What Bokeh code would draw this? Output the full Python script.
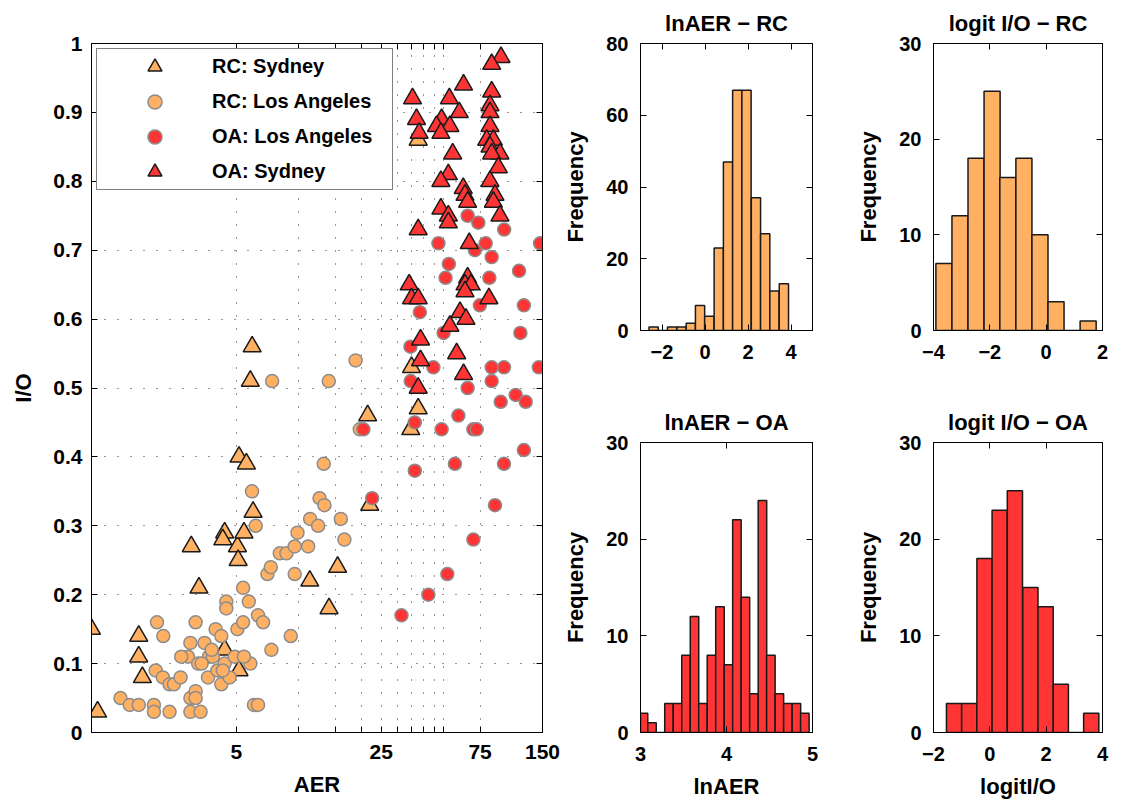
from bokeh.plotting import figure
from bokeh.models import Range1d, FixedTicker, LinearAxis, Legend, LegendItem
from bokeh.layouts import row, column
from bokeh.embed import file_html
from bokeh.resources import INLINE

FONT = "Liberation Sans"
ORANGE = "#FFB062"
RED = "#FF3535"
TRI_EDGE = "#1A1A1A"
CIRC_EDGE = "#8C8C8C"

# ---------------- scatter data (AER, I/O) ----------------
rc_syd_aer = [1.0, 1.07, 1.69, 1.69, 1.76, 3.03, 3.3, 4.39, 4.3, 5.06, 5.1, 5.44, 6.02, 4.39,
              5.15, 11.3, 14.0, 15.4, 22.0, 5.96, 5.84, 5.15, 5.59, 21.5, 35.0, 37.7, 34.7, 37.7]
rc_syd_io = [0.15, 0.03, 0.14, 0.11, 0.08, 0.27, 0.21, 0.29, 0.28, 0.27, 0.25, 0.29, 0.32, 0.12,
             0.09, 0.22, 0.18, 0.24, 0.33, 0.56, 0.51, 0.40, 0.39, 0.46, 0.53, 0.47, 0.44, 0.86]

rc_la_aer = [1.38, 1.53, 1.69, 2.0, 2.0, 2.04, 2.21, 2.38, 2.5, 2.69, 2.38, 2.07, 2.22, 3.0, 3.0,
             3.18, 3.18, 3.36, 3.0, 2.92, 2.71, 3.18, 3.27, 3.51, 3.69, 3.65, 3.97, 4.23, 4.05,
             4.23, 4.39, 4.64, 4.47, 4.47, 4.91, 5.06, 5.39, 5.39, 5.74, 5.84, 5.44, 6.36, 6.73,
             6.08, 6.36, 5.95, 6.2, 7.38, 7.06, 7.33, 8.1, 8.72, 9.56, 9.86, 11.1, 11.35, 12.4,
             12.6, 13.3, 9.56, 9.15, 15.96, 16.6, 3.85, 4.3, 7.44, 13.96, 18.8, 13.2, 19.7, 3.4, 3.8]
rc_la_io = [0.05, 0.04, 0.04, 0.04, 0.03, 0.09, 0.08, 0.07, 0.07, 0.08, 0.03, 0.16, 0.14, 0.03, 0.05,
            0.06, 0.05, 0.03, 0.13, 0.11, 0.11, 0.16, 0.10, 0.13, 0.11, 0.08, 0.15, 0.14, 0.09,
            0.07, 0.10, 0.08, 0.19, 0.18, 0.11, 0.15, 0.16, 0.21, 0.19, 0.10, 0.11, 0.17, 0.16,
            0.04, 0.04, 0.35, 0.30, 0.12, 0.23, 0.24, 0.26, 0.26, 0.27, 0.29, 0.27, 0.31, 0.30,
            0.34, 0.33, 0.23, 0.14, 0.31, 0.28, 0.11, 0.09, 0.51, 0.51, 0.54, 0.39, 0.44, 0.10, 0.12]

oa_la_aer = [22.6, 31.3, 42.2, 52.1, 69.6, 88.5, 20.5, 34.6, 38.4, 47.2, 53.0, 51.1, 44.6, 34.7,
             65.3, 58.9, 48.9, 69.6, 72.2, 36.3, 36.3, 56.7, 97.8, 122.0, 65.3, 73.5, 98.0, 79.8,
             70.8, 85.3, 83.1, 74.8, 122.0, 115.6, 117.3, 85.3, 97.8, 144.0, 85.3, 94.3, 111.4,
             124.5, 146.0, 50.0]
oa_la_io = [0.34, 0.17, 0.20, 0.23, 0.28, 0.33, 0.44, 0.56, 0.61, 0.71, 0.68, 0.66, 0.53, 0.51,
            0.50, 0.46, 0.44, 0.44, 0.44, 0.45, 0.38, 0.39, 0.39, 0.41, 0.75, 0.74, 0.73, 0.71,
            0.70, 0.69, 0.66, 0.62, 0.62, 0.67, 0.58, 0.53, 0.53, 0.53, 0.51, 0.48, 0.49,
            0.48, 0.71, 0.58]

oa_syd_aer = [94.6, 85.3, 62.4, 35.4, 53.3, 85.3, 59.5, 83.7, 83.7, 37.0, 48.9, 53.6, 46.2, 48.5,
              38.1, 83.7, 80.7, 86.9, 83.7, 93.5, 55.3, 85.3, 91.8, 52.7, 48.5, 83.7, 88.5, 62.2,
              63.4, 65.3, 86.9, 48.5, 52.7, 52.7, 93.5, 37.7, 66.5, 65.3, 63.4, 67.8, 63.4, 34.1,
              35.0, 37.7, 82.7, 60.0, 64.1, 53.6, 38.7, 57.8, 38.7, 62.4, 37.7]
oa_syd_io = [0.98, 0.97, 0.94, 0.92, 0.92, 0.93, 0.90, 0.91, 0.90, 0.89, 0.89, 0.88, 0.88, 0.87,
             0.87, 0.88, 0.86, 0.86, 0.85, 0.84, 0.84, 0.84, 0.82, 0.81, 0.80, 0.80, 0.78, 0.79,
             0.78, 0.77, 0.77, 0.76, 0.75, 0.74, 0.75, 0.73, 0.71, 0.66, 0.65, 0.65, 0.64, 0.65,
             0.63, 0.63, 0.63, 0.61, 0.60, 0.59, 0.57, 0.55, 0.54, 0.52, 0.50]

x_ticks = [5, 10, 15, 20, 25, 30, 35, 40, 45, 50, 75, 150]
x_tick_labels = ["5", "", "", "", "25", "", "", "", "", "", "75", "150"]
y_ticks = [0, 0.1, 0.2, 0.3, 0.4, 0.5, 0.6, 0.7, 0.8, 0.9, 1]
y_tick_labels = ["0", "0.1", "0.2", "0.3", "0.4", "0.5", "0.6", "0.7", "0.8", "0.9", "1"]

# ---------------- histogram data ----------------
rc_lnaer_centers = [-2.39, -1.96, -1.53, -1.09, -0.66, -0.23, 0.20, 0.64, 1.07, 1.50, 1.93, 2.37,
                    2.80, 3.23, 3.67]
rc_lnaer_counts = [1, 0, 1, 1, 2, 7, 4, 23, 47, 67, 67, 37, 27, 11, 13]

rc_logit_centers = [-3.63, -3.06, -2.49, -1.92, -1.36, -0.79, -0.22, 0.35, 0.92, 1.49]
rc_logit_counts = [7, 12, 18, 25, 16, 18, 10, 3, 0, 1]

oa_lnaer_centers = [3.035, 3.134, 3.233, 3.331, 3.430, 3.529, 3.628, 3.726, 3.825, 3.924, 4.023,
                    4.121, 4.220, 4.319, 4.418, 4.516, 4.615, 4.714, 4.813, 4.911]
oa_lnaer_counts = [2, 1, 0, 3, 3, 8, 12, 3, 8, 13, 7, 22, 14, 4, 24, 8, 4, 3, 3, 2]

oa_logit_centers = [-1.27, -0.73, -0.19, 0.35, 0.89, 1.44, 1.98, 2.52, 3.06, 3.60]
oa_logit_counts = [3, 3, 18, 23, 25, 15, 13, 5, 0, 2]


def lab(t):
    s = ("%g" % t)
    return s.replace("-", "\u2212")


def style_axes(p, xticks, xlabels, yticks, ylabels, xlabel=None, ylabel=None,
               tick_size="20px", x_standoff=13, y_standoff=9, y_label_standoff=18):
    xa = p.below[0]
    ya = p.left[0]
    xa.ticker = FixedTicker(ticks=xticks)
    xa.major_label_overrides = {t: l for t, l in zip(xticks, xlabels)}
    ya.ticker = FixedTicker(ticks=yticks)
    ya.major_label_overrides = {t: l for t, l in zip(yticks, ylabels)}
    for ax in (xa, ya):
        ax.major_tick_in = 6
        ax.major_tick_out = 0
        ax.minor_tick_line_color = None
        ax.axis_line_color = "black"
        ax.major_tick_line_color = "black"
        ax.major_label_text_font = FONT
        ax.major_label_text_font_style = "bold"
        ax.major_label_text_font_size = tick_size
        ax.major_label_text_color = "black"
        ax.axis_label_text_font = FONT
        ax.axis_label_text_font_style = "bold"
        ax.axis_label_text_font_size = "22px"
        ax.axis_label_text_color = "black"
    xa.major_label_standoff = x_standoff
    ya.major_label_standoff = y_standoff
    xa.axis_label_standoff = 10
    ya.axis_label_standoff = y_label_standoff
    if xlabel:
        xa.axis_label = xlabel
    if ylabel:
        ya.axis_label = ylabel
    top = LinearAxis(ticker=FixedTicker(ticks=xticks),
                     major_label_overrides={t: "" for t in xticks},
                     major_tick_in=6, major_tick_out=0, minor_tick_line_color=None,
                     axis_line_color="black", major_label_standoff=0)
    p.add_layout(top, "above")
    right = LinearAxis(ticker=FixedTicker(ticks=yticks),
                       major_label_overrides={t: "" for t in yticks},
                       major_tick_in=6, major_tick_out=0, minor_tick_line_color=None,
                       axis_line_color="black", major_label_standoff=0)
    p.add_layout(right, "right")
    p.outline_line_color = "black"
    p.outline_line_width = 1


# ---------------- scatter ----------------
sc = figure(width=560, height=804, x_axis_type="log", x_range=Range1d(1, 150),
            y_range=Range1d(0, 1), output_backend="svg", toolbar_location=None,
            min_border_left=91, min_border_right=18, min_border_top=43, min_border_bottom=72)
style_axes(sc, x_ticks, x_tick_labels, y_ticks, y_tick_labels, xlabel="AER", ylabel="I/O",
           tick_size="21px", x_standoff=12, y_standoff=9, y_label_standoff=14)
for g in (sc.xgrid, sc.ygrid):
    g.grid_line_color = "#333333"
    g.grid_line_dash = "1 12"
    g.grid_line_width = 1

r1 = sc.scatter(rc_syd_aer, rc_syd_io, marker="triangle", size=18, fill_color=ORANGE,
                line_color=TRI_EDGE, line_width=1.5)
r2 = sc.scatter(rc_la_aer, rc_la_io, marker="circle", size=13, fill_color=ORANGE,
                line_color=CIRC_EDGE, line_width=1.5)
r3 = sc.scatter(oa_la_aer, oa_la_io, marker="circle", size=13, fill_color=RED,
                line_color=CIRC_EDGE, line_width=1.5)
r4 = sc.scatter(oa_syd_aer, oa_syd_io, marker="triangle", size=18, fill_color=RED,
                line_color=TRI_EDGE, line_width=1.5)

legend = Legend(items=[LegendItem(label="RC: Sydney", renderers=[r1]),
                       LegendItem(label="RC: Los Angeles", renderers=[r2]),
                       LegendItem(label="OA: Los Angeles", renderers=[r3]),
                       LegendItem(label="OA: Sydney", renderers=[r4])],
                location="top_left", margin=5, padding=0, spacing=0,
                glyph_width=115, glyph_height=35, label_height=35, label_width=180,
                label_standoff=0, label_text_font=FONT, label_text_font_style="bold",
                label_text_font_size="20px", label_text_color="black",
                border_line_color="black", border_line_width=1,
                background_fill_color="white", background_fill_alpha=1.0)
sc.add_layout(legend)


# ---------------- histograms ----------------
def make_hist(centers, counts, color, xr, yr, xticks, yticks, title, xlabel,
              w, h, bl, br, bt, bb):
    p = figure(width=w, height=h, x_range=Range1d(*xr), y_range=Range1d(*yr),
               output_backend="svg", toolbar_location=None, title=title,
               min_border_left=bl, min_border_right=br, min_border_top=bt, min_border_bottom=bb)
    bw = centers[1] - centers[0]
    p.vbar(x=centers, top=counts, width=bw, bottom=0, fill_color=color,
           line_color=TRI_EDGE, line_width=1.5)
    style_axes(p, xticks, [lab(t) for t in xticks], yticks, [lab(t) for t in yticks],
               xlabel=xlabel, ylabel="Frequency", tick_size="20px", x_standoff=14,
               y_standoff=12, y_label_standoff=15)
    p.grid.visible = False
    p.title.text_font = FONT
    p.title.text_font_style = "bold"
    p.title.text_font_size = "22px"
    p.title.text_color = "black"
    p.title.align = "center"
    p.title.vertical_align = "middle"
    p.title.standoff = 14
    return p


h1 = make_hist(rc_lnaer_centers, rc_lnaer_counts, ORANGE, (-3, 5), (0, 80), [-2, 0, 2, 4],
               [0, 20, 40, 60, 80], "lnAER \u2212 RC", None, 280, 390, 78, 28, 43, 60)
h2 = make_hist(rc_logit_centers, rc_logit_counts, ORANGE, (-4, 2), (0, 30), [-4, -2, 0, 2],
               [0, 10, 20, 30], "logit I/O \u2212 RC", None, 286, 390, 93, 20, 43, 60)
h3 = make_hist(oa_lnaer_centers, oa_lnaer_counts, RED, (3, 5), (0, 30), [3, 4, 5],
               [0, 10, 20, 30], "lnAER \u2212 OA", "lnAER", 280, 414, 79, 27, 52, 72)
h4 = make_hist(oa_logit_centers, oa_logit_counts, RED, (-2, 4), (0, 30), [-2, 0, 2, 4],
               [0, 10, 20, 30], "logit I/O \u2212 OA", "logitI/O", 286, 414, 89, 24, 52, 72)

layout = row(sc, column(h1, h3, spacing=0), column(h2, h4, spacing=0), spacing=0)

open("out.html", "w").write(file_html(layout, INLINE))
